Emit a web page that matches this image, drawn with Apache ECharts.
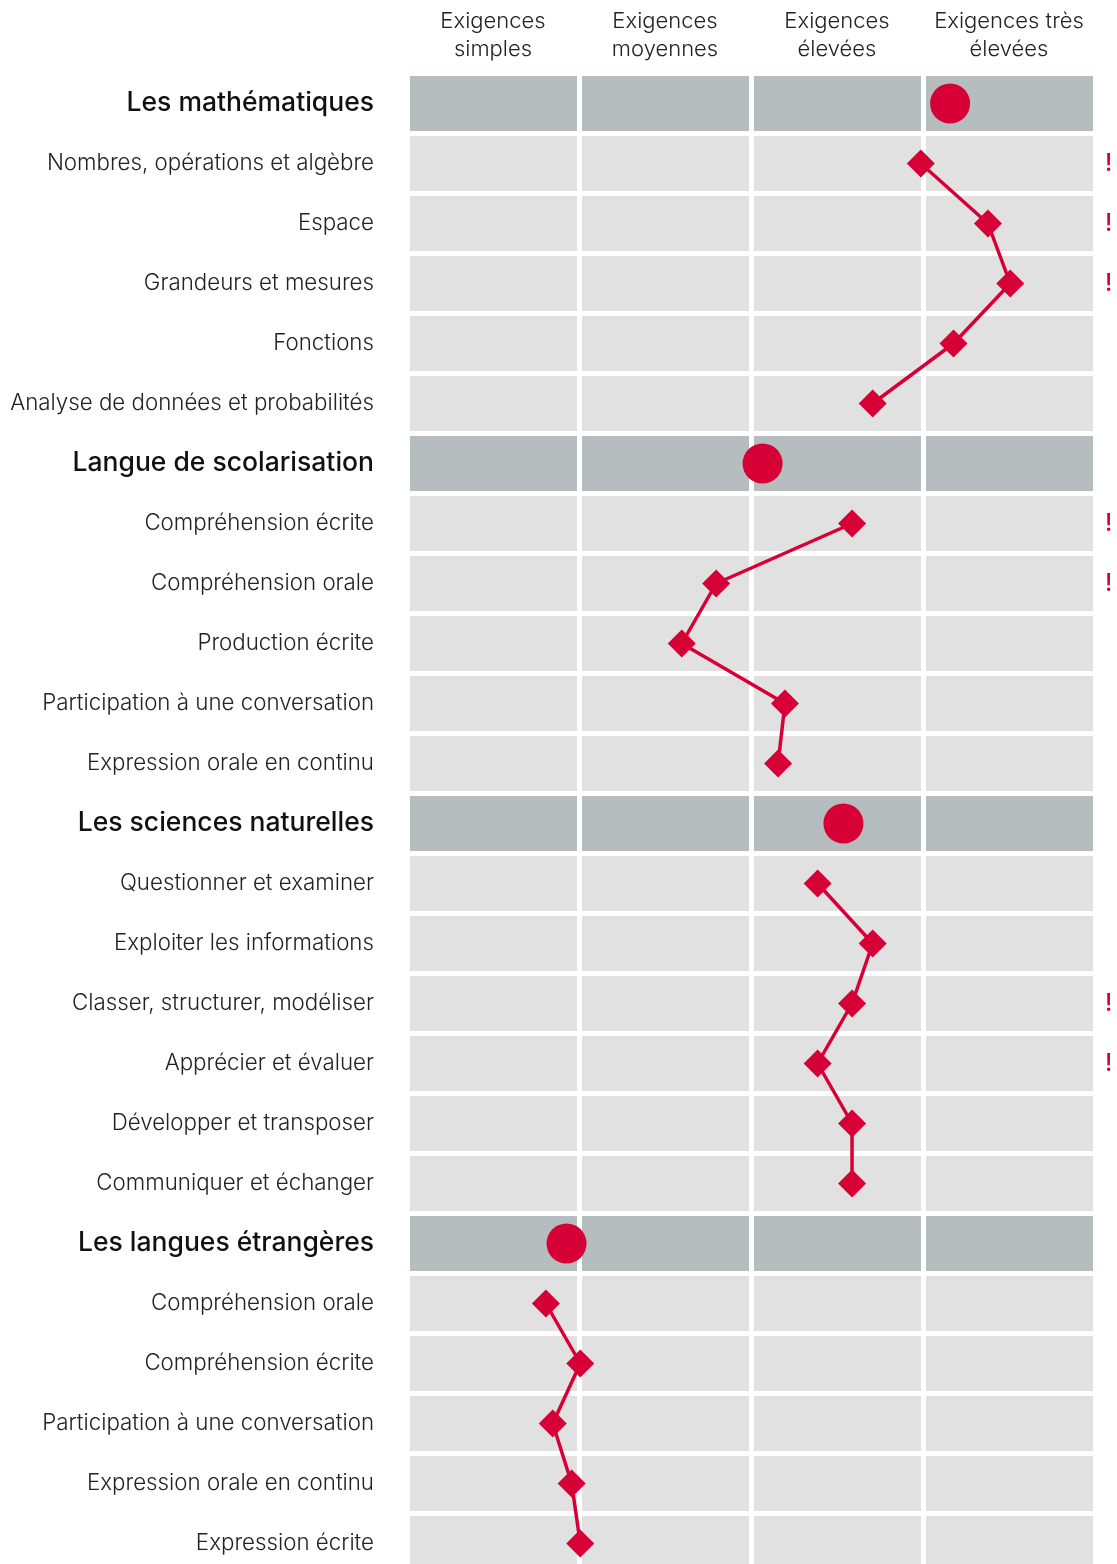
<!DOCTYPE html>
<html>
<head>
<meta charset="utf-8">
<script src="https://cdn.jsdelivr.net/npm/echarts@6/dist/echarts.min.js"></script>
<style>
  html, body { margin: 0; padding: 0; background: #fff; overflow: hidden; }
  #chart { width: 1117px; height: 1580px; }
</style>
</head>
<body>
<div id="chart"></div>
<script>
// ---- data ----
const levelLabels = ['Exigences\nsimples', 'Exigences\nmoyennes', 'Exigences\nélevées', 'Exigences très\nélevées'];

const groupNames = ['Les mathématiques', 'Langue de scolarisation', 'Les sciences naturelles', 'Les langues étrangères'];
const groupScores = [3.14, 2.05, 2.52, 0.91];

const mathSkills = ['Nombres, opérations et algèbre', 'Espace', 'Grandeurs et mesures', 'Fonctions', 'Analyse de données et probabilités'];
const mathScores = [2.97, 3.36, 3.49, 3.16, 2.69];
const mathFlags = [1, 1, 1, 0, 0];

const langueSkills = ['Compréhension écrite', 'Compréhension orale', 'Production écrite', 'Participation à une conversation', 'Expression orale en continu'];
const langueScores = [2.57, 1.78, 1.58, 2.18, 2.14];
const langueFlags = [1, 1, 0, 0, 0];

const sciencesSkills = ['Questionner et examiner', 'Exploiter les informations', 'Classer, structurer, modéliser', 'Apprécier et évaluer', 'Développer et transposer', 'Communiquer et échanger'];
const sciencesScores = [2.37, 2.69, 2.57, 2.37, 2.57, 2.57];
const sciencesFlags = [0, 0, 1, 1, 0, 0];

const etrangeresSkills = ['Compréhension orale', 'Compréhension écrite', 'Participation à une conversation', 'Expression orale en continu', 'Expression écrite'];
const etrangeresScores = [0.79, 0.99, 0.83, 0.94, 0.99];
const etrangeresFlags = [0, 0, 0, 0, 0];

// ---- build rows ----
const groupSkills = [mathSkills, langueSkills, sciencesSkills, etrangeresSkills];
const groupSkillScores = [mathScores, langueScores, sciencesScores, etrangeresScores];
const groupFlags = [mathFlags, langueFlags, sciencesFlags, etrangeresFlags];

const rowLabels = [];
const rowIsHeader = [];
const rowFlag = [];
const headerPoints = [];
const lineData = [];
groupNames.forEach(function (g, gi) {
  headerPoints.push([groupScores[gi], rowLabels.length]);
  rowLabels.push(g); rowIsHeader.push(true); rowFlag.push(0);
  const pts = [];
  groupSkills[gi].forEach(function (s, si) {
    pts.push([groupSkillScores[gi][si], rowLabels.length]);
    rowLabels.push(s); rowIsHeader.push(false); rowFlag.push(groupFlags[gi][si]);
  });
  lineData.push(pts);
});

const cellData = [];
rowLabels.forEach(function (_, r) {
  for (let c = 0; c < levelLabels.length; c++) cellData.push([c, r, rowIsHeader[r] ? 1 : 0]);
});

const RED = '#d70036';
const FONT = 'Inter';

const chart = echarts.init(document.getElementById('chart'), null, { renderer: 'canvas' });

const series = [{
  type: 'custom',
  xAxisIndex: 0, yAxisIndex: 0,
  silent: true,
  z: 1,
  data: cellData,
  renderItem: function (params, api) {
    const p = api.coord([api.value(0), api.value(1)]);
    const w = api.size([1, 0])[0] - 5;
    const h = api.size([0, 1])[1] - 5;
    return {
      type: 'rect',
      shape: { x: p[0], y: p[1] - h / 2, width: w, height: h },
      style: { fill: api.value(2) ? '#b5bdbe' : '#e1e1e1' }
    };
  }
}];

lineData.forEach(function (pts) {
  series.push({
    type: 'line',
    xAxisIndex: 0, yAxisIndex: 0,
    data: pts,
    symbol: 'diamond',
    symbolSize: 28,
    showAllSymbol: true,
    lineStyle: { color: RED, width: 3.5 },
    itemStyle: { color: RED, opacity: 1 },
    z: 3,
    silent: true
  });
});

series.push({
  type: 'scatter',
  xAxisIndex: 0, yAxisIndex: 0,
  data: headerPoints,
  symbol: 'circle',
  symbolSize: 40,
  itemStyle: { color: RED, opacity: 1 },
  z: 4,
  silent: true
});

const option = {
  backgroundColor: '#ffffff',
  animation: false,
  grid: { left: 410, top: 73.5, width: 688, height: rowLabels.length * 60, containLabel: false, outerBoundsMode: 'none' },
  xAxis: [{
    type: 'value', min: 0, max: 4, interval: 1,
    axisLine: { show: false }, axisTick: { show: false },
    axisLabel: { show: false }, splitLine: { show: false }
  }, {
    type: 'category', position: 'top', data: levelLabels,
    axisLine: { show: false }, axisTick: { show: false }, splitLine: { show: false },
    axisLabel: { interval: 0, margin: 10, fontFamily: FONT, fontSize: 22, lineHeight: 28, color: '#222', fontWeight: 300, padding: [0, 6, 0, 0] }
  }],
  yAxis: [{
    type: 'category', inverse: true, data: rowLabels,
    axisLine: { show: false }, axisTick: { show: false }, splitLine: { show: false },
    axisLabel: {
      interval: 0,
      margin: 36,
      formatter: function (v, i) { return rowIsHeader[i] ? '{h|' + v + '}' : '{s|' + v + '}'; },
      rich: {
        h: { fontFamily: FONT, fontSize: 26.5, fontWeight: 500, color: '#111' },
        s: { fontFamily: FONT, fontSize: 22.3, fontWeight: 300, color: '#222' }
      }
    }
  }, {
    type: 'category', inverse: true, position: 'right', data: rowLabels,
    axisLine: { show: false }, axisTick: { show: false }, splitLine: { show: false },
    axisLabel: {
      interval: 0,
      margin: 7,
      formatter: function (v, i) { return rowFlag[i] ? '!' : ''; },
      fontFamily: FONT, fontSize: 24, fontWeight: 500, color: RED
    }
  }],
  series: series
};
chart.setOption(option);
</script>
</body>
</html>
